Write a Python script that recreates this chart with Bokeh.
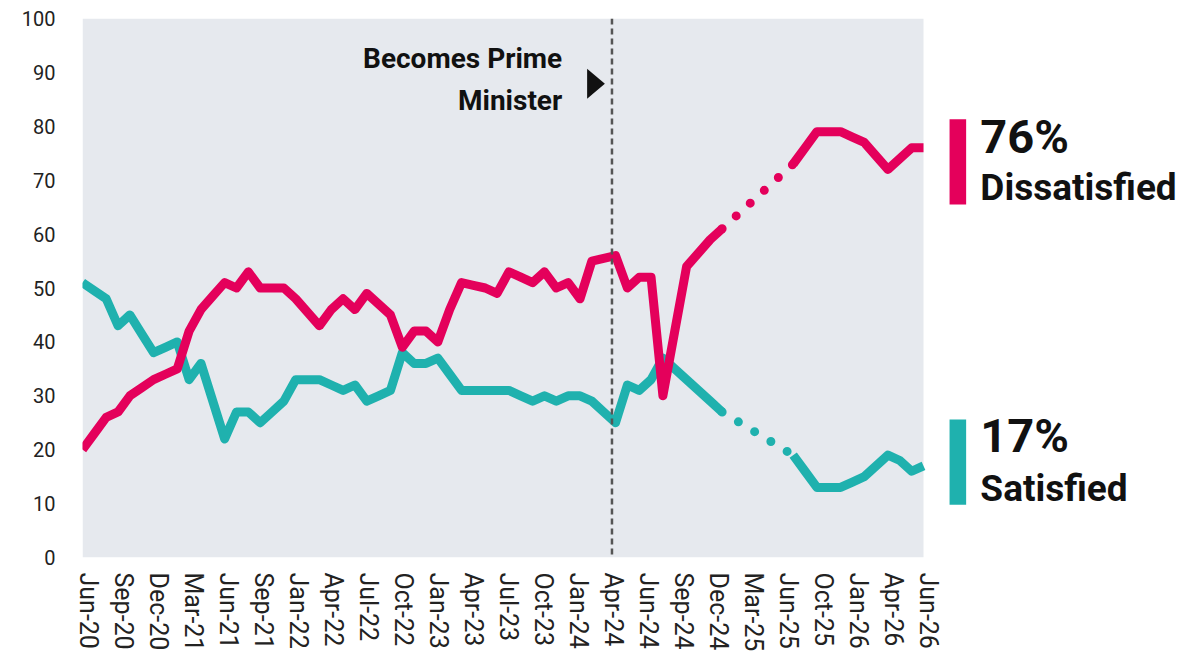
import numpy as np
from bokeh.plotting import figure
from bokeh.models import Range1d, FixedTicker, CustomJSTickFormatter, Span
from bokeh.core.properties import value
from bokeh.embed import file_html
from bokeh.resources import INLINE

# ---------------- data ----------------
tick_labels = ["Jun-20", "Sep-20", "Dec-20", "Mar-21", "Jun-21", "Sep-21", "Jan-22",
               "Apr-22", "Jul-22", "Oct-22", "Jan-23", "Apr-23", "Jul-23", "Oct-23",
               "Jan-24", "Apr-24", "Jun-24", "Sep-24", "Dec-24", "Mar-25", "Jun-25",
               "Oct-25", "Jan-26", "Apr-26", "Jun-26"]

satisfied = [51, 49.5, 48, 43, 45, 41.5, 38, 39, 40, 33,
             36, 29, 22, 27, 27, 25, 27, 29, 33, 33,
             33, 32, 31, 32, 29, 30, 31, 38, 36, 36,
             37, 34, 31, 31, 31, 31, 31, 30, 29, 30,
             29, 30, 30, 29, 27, 25, 32, 31, 33, 37,
             35, 33, 31, 29, 27, None, None, None, None, None,
             19, 16, 13, 13, 13, 14, 15, 17, 19, 18,
             16, 17]

dissatisfied = [20, 23, 26, 27, 30, 31.5, 33, 34, 35, 42,
                46, 48.5, 51, 50, 53, 50, 50, 50, 48, 45.5,
                43, 46, 48, 46, 49, 47, 45, 39, 42, 42,
                40, 46, 51, 50.5, 50, 49, 53, 52, 51, 53,
                50, 51, 48, 55, 55.5, 56, 50, 52, 52, 30,
                42, 54, 56.5, 59, 61, None, None, None, None, None,
                73, 76, 79, 79, 79, 78, 77, 74.5, 72, 74,
                76, 76]

event_label = ["Becomes Prime", "Minister"]
series_names = ["Dissatisfied", "Satisfied"]

# ---------------- styling / layout ----------------
RED = "#E4005B"
TEAL = "#1FB1AE"
BG = "#E6E9EE"
FONT = "Roboto"

sat = np.array(satisfied, dtype=float)
dis = np.array(dissatisfied, dtype=float)
n = len(sat)
x = np.arange(n)

W, H = 1195, 655
BL, BR, BT, BB = 82, 0, 18, 98
frame_w = W - BL - BR
data_px = 841.0
x_end = (n - 1) * frame_w / data_px
px_per_unit = data_px / (n - 1)

p = figure(width=W, height=H, output_backend="svg", toolbar_location=None,
           x_range=Range1d(0, x_end), y_range=Range1d(0, 100),
           min_border_left=BL, min_border_right=BR, min_border_top=BT,
           min_border_bottom=BB)
p.outline_line_color = None
p.background_fill_color = "white"
p.border_fill_color = "white"
p.xgrid.visible = False
p.ygrid.visible = False

# plot-area background
p.quad(left=0, right=n - 1, bottom=0, top=100, fill_color=BG, line_color=None)

# y axis
p.yaxis.ticker = FixedTicker(ticks=list(range(0, 101, 10)))
p.yaxis.axis_line_color = None
p.yaxis.major_tick_line_color = None
p.yaxis.minor_tick_line_color = None
p.yaxis.major_tick_out = 0
p.yaxis.major_label_standoff = 27
p.yaxis.major_label_text_font = FONT
p.yaxis.major_label_text_font_size = "20px"
p.yaxis.major_label_text_color = "#222222"

# x axis: labels evenly spread along the data span
t0 = 6.0 / px_per_unit
dt = 35.0 / px_per_unit
ticks = [t0 + k * dt for k in range(len(tick_labels))]
p.xaxis.ticker = FixedTicker(ticks=ticks)
p.xaxis.formatter = CustomJSTickFormatter(
    args=dict(labels=tick_labels, t0=t0, dt=dt),
    code="const k = Math.round((tick - t0) / dt); return labels[k] || '';")
p.xaxis.axis_line_color = None
p.xaxis.major_tick_line_color = None
p.xaxis.minor_tick_line_color = None
p.xaxis.major_tick_out = 0
p.xaxis.major_label_standoff = 15
p.xaxis.major_label_orientation = "vertical"
p.xaxis.major_label_text_font = FONT
p.xaxis.major_label_text_font_size = "25px"
p.xaxis.major_label_text_color = "#222222"

# event line
EVENT_X = 44.7
p.add_layout(Span(location=EVENT_X, dimension="height", line_color="#555555",
                  line_width=2.5, line_dash="6 4"))

# lines
for ys, col in ((sat, TEAL), (dis, RED)):
    p.line(x, ys, line_color=col, line_width=9, line_join="round", line_cap="butt")
    nan_idx = np.where(np.isnan(ys))[0]
    a, b = nan_idx[0] - 1, nan_idx[-1] + 1
    p.line([x[a], x[b]], [ys[a], ys[b]], line_color=col, line_width=9,
           line_dash="0 19", line_cap="round")

# event annotation
p.text(x=[EVENT_X - 4.2, EVENT_X - 4.2], y=[92.5, 84.8], text=event_label,
       text_align="right", text_baseline="alphabetic",
       text_font=value(FONT), text_font_style="bold", text_font_size="28px",
       text_color="#111111")
p.patch(x=[EVENT_X - 2.1, EVENT_X - 0.6, EVENT_X - 2.1],
        y=[90.7, 87.9, 85.1], fill_color="#111111", line_color=None)

# right-hand labels
last_dis = int(round(dis[-1]))
last_sat = int(round(sat[-1]))
p.quad(left=[73.2, 73.2], right=[74.6, 74.6], bottom=[65.5, 9.8], top=[81.3, 25.6],
       fill_color=[RED, TEAL], line_color=None)
p.text(x=[75.8, 75.8], y=[78.1, 22.6], text=[f"{last_dis}%", f"{last_sat}%"],
       text_align="left", text_baseline="alphabetic",
       text_font=value(FONT), text_font_style="bold", text_font_size="47px",
       text_color="#111111")
p.text(x=[75.8, 75.8], y=[68.6, 12.8], text=series_names,
       text_align="left", text_baseline="alphabetic",
       text_font=value(FONT), text_font_style="bold", text_font_size="37px",
       text_color="#111111")

open("out.html", "w").write(file_html(p, INLINE))
